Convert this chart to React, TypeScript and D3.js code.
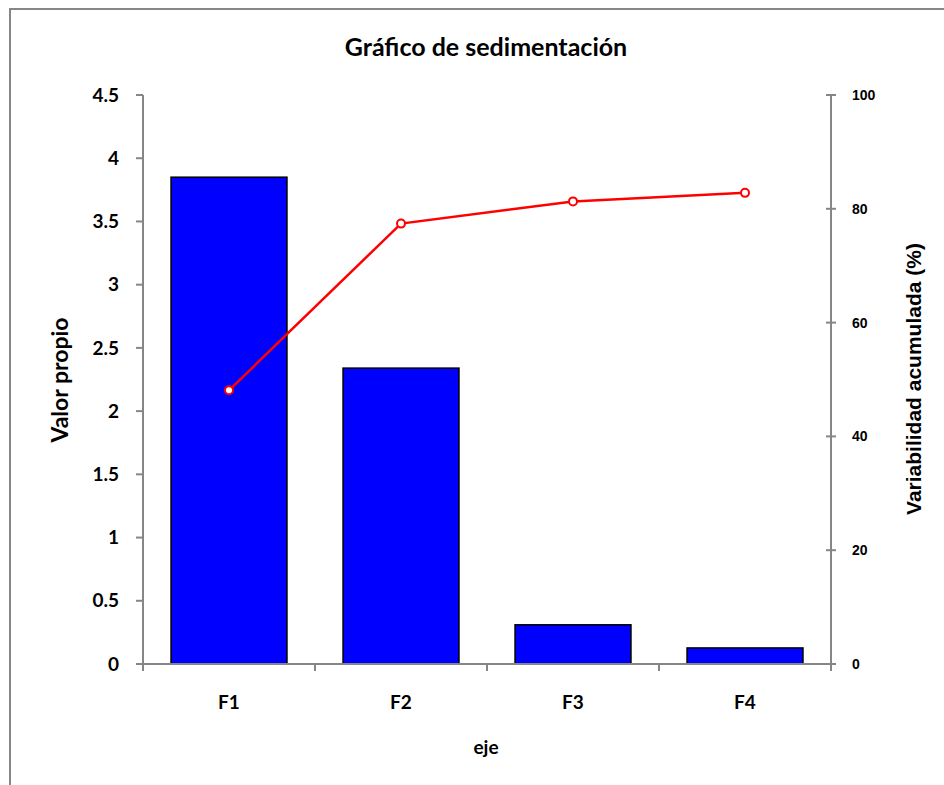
import React from "react";
import * as d3 from "d3";

const categories = ["F1", "F2", "F3", "F4"];
const eigenvalues = [3.85, 2.34, 0.31, 0.127];
const cumulative = [48.1, 77.4, 81.3, 82.8];
const leftTicks = [0, 0.5, 1, 1.5, 2, 2.5, 3, 3.5, 4, 4.5];
const rightTicks = [0, 20, 40, 60, 80, 100];

export default function App() {
  const W = 944, H = 785;
  const x0 = 143, x1 = 831, yTop = 95, yBot = 664;
  const x = d3.scaleBand<string>().domain(categories).range([x0, x1]).paddingInner(0.326).paddingOuter(0.163);
  const bandStep = (x1 - x0) / categories.length;
  const yL = d3.scaleLinear().domain([0, 4.5]).range([yBot, yTop]);
  const yR = d3.scaleLinear().domain([0, 100]).range([yBot, yTop]);
  const cx = (c: string) => (x(c) as number) + x.bandwidth() / 2;
  const line = d3.line<number>().x((_, i) => cx(categories[i])).y((d) => yR(d));
  const grey = "#868686";
  const font = "Lato, Carlito, Calibri, sans-serif";
  const arial = "Liberation Sans, Arial, sans-serif";
  return (
    <svg width={W} height={H} style={{ position: "absolute", left: 0, top: 0 }}>
      <rect x={0} y={0} width={W} height={H} fill="white" />
      <rect x={10} y={9} width={W + 20} height={H + 20} fill="none" stroke={grey} strokeWidth={2} />
      <text x={486} y={56} textAnchor="middle" fontFamily={font} fontWeight="bold" fontSize={25}>
        Gráfico de sedimentación
      </text>
      {categories.map((c, i) => (
        <rect key={c} x={x(c)} y={yL(eigenvalues[i])} width={x.bandwidth()} height={yBot - yL(eigenvalues[i])}
          fill="#0000ff" stroke="#000" strokeWidth={1.5} />
      ))}
      {/* left axis */}
      <line x1={x0} y1={yTop} x2={x0} y2={yBot + 7} stroke={grey} strokeWidth={2} />
      {leftTicks.map((t) => (
        <g key={t}>
          <line x1={x0 - 7} x2={x0} y1={yL(t)} y2={yL(t)} stroke={grey} strokeWidth={2} />
          <text x={119} y={yL(t)} dy="0.35em" textAnchor="end" fontFamily={font} fontWeight="bold" fontSize={19}>
            {t}
          </text>
        </g>
      ))}
      {/* bottom axis */}
      <line x1={x0 - 7} y1={yBot} x2={x1 + 5} y2={yBot} stroke={grey} strokeWidth={2} />
      {d3.range(categories.length + 1).map((i) => (
        <line key={i} x1={x0 + i * bandStep} x2={x0 + i * bandStep} y1={yBot} y2={yBot + 7} stroke={grey} strokeWidth={2} />
      ))}
      {categories.map((c) => (
        <text key={c} x={cx(c)} y={709} textAnchor="middle" fontFamily={font} fontWeight="bold" fontSize={19}>
          {c}
        </text>
      ))}
      {/* right axis */}
      <line x1={x1} y1={yTop} x2={x1} y2={yBot + 7} stroke={grey} strokeWidth={2} />
      {rightTicks.map((t) => (
        <g key={t}>
          <line x1={x1 - 5} x2={x1 + 5} y1={yR(t)} y2={yR(t)} stroke={grey} strokeWidth={2} />
          <text x={852} y={yR(t)} dy="0.35em" textAnchor="start" fontFamily={arial} fontWeight="bold" fontSize={14}>
            {t}
          </text>
        </g>
      ))}
      {/* line */}
      <path d={line(cumulative) || ""} fill="none" stroke="#ff0000" strokeWidth={2.5} />
      {cumulative.map((v, i) => (
        <circle key={i} cx={cx(categories[i])} cy={yR(v)} r={4} fill="white" stroke="#ff0000" strokeWidth={2} />
      ))}
      {/* axis titles */}
      <text transform={`translate(68,${380}) rotate(-90)`} textAnchor="middle" fontFamily={font} fontWeight="bold" fontSize={23}>
        Valor propio
      </text>
      <text transform={`translate(921,${379}) rotate(-90)`} textAnchor="middle" fontFamily={arial} fontWeight="bold" fontSize={21}>
        Variabilidad acumulada (%)
      </text>
      <text x={486} y={754} textAnchor="middle" fontFamily={font} fontWeight="bold" fontSize={19}>
        eje
      </text>
    </svg>
  );
}
